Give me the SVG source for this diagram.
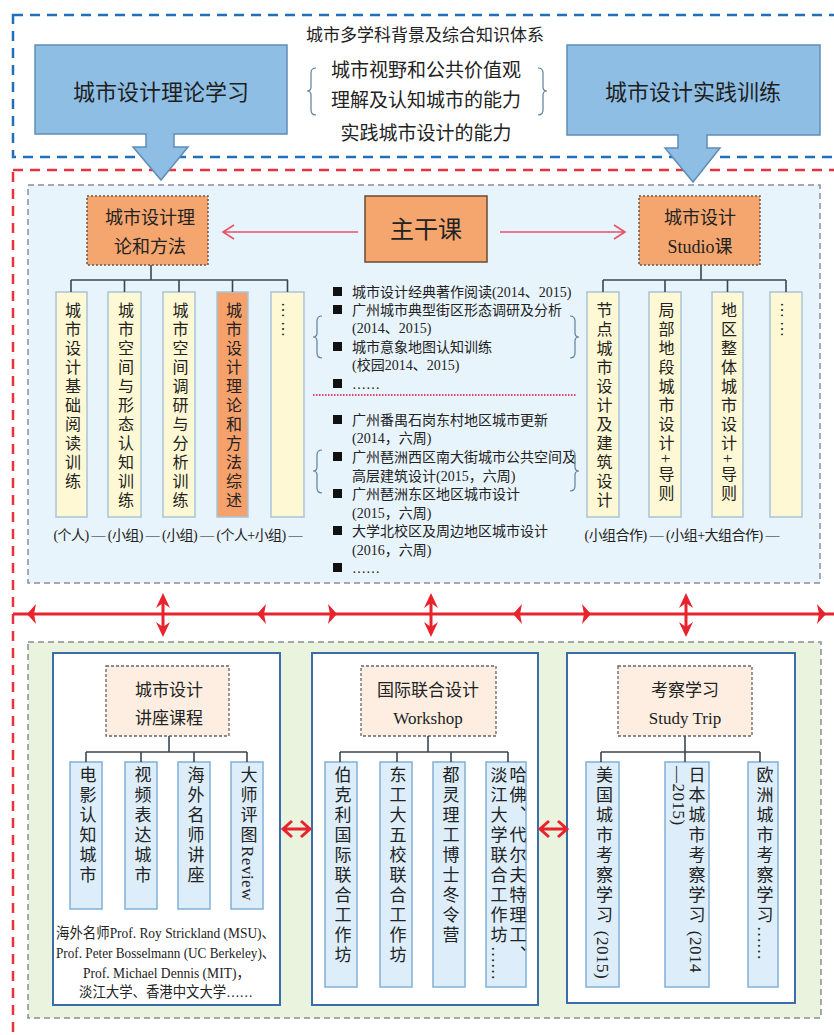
<svg xmlns="http://www.w3.org/2000/svg" width="834" height="1035" viewBox="0 0 834 1035">
<style>
.t{font-family:"Liberation Serif","Noto Sans CJK SC",serif;fill:#222}
.s{font-family:"Noto Sans CJK SC","Liberation Sans",sans-serif;fill:#1e1e1e}
.v{writing-mode:vertical-rl;font-family:"Liberation Serif","Noto Sans CJK SC",serif;fill:#222;font-size:16px;letter-spacing:3px}
.vb{writing-mode:vertical-rl;font-family:"Liberation Serif","Noto Sans CJK SC",serif;fill:#222;font-size:17px;letter-spacing:3px}
.lat{letter-spacing:0.5px}
.ycol{fill:#fef9d4;stroke:#a9c3d9;stroke-width:1.5}
.ocol{fill:#f5a16b;stroke:#a9c3d9;stroke-width:1.5}
.bcol{fill:#ddeefa;stroke:#80b0d8;stroke-width:1.5}
.ohead{fill:#f5a66e;stroke:#6b5548;stroke-width:1.5;stroke-dasharray:2 2}
.phead{fill:#fdeee1;stroke:#666;stroke-width:1.3;stroke-dasharray:3 2}
.wbox{fill:#fff;stroke:#3a6ea8;stroke-width:2}
.conn{fill:none;stroke:#3c4650;stroke-width:1.6}
.red{fill:none;stroke:#e8232d;stroke-width:3}
.redf{fill:#e8232d}
.pink{fill:none;stroke:#e5506a;stroke-width:1.6}
.brace{fill:none;stroke:#5f7f9c;stroke-width:1.2}
.big{fill:#8fbee4;stroke:#5f8db5;stroke-width:1.5}
</style>

<!-- frames -->
<rect x="13" y="15" width="840" height="142" fill="none" stroke="#1f70b6" stroke-width="2.5" stroke-dasharray="10 7"/>
<rect x="13" y="170" width="840" height="900" fill="none" stroke="#e8323c" stroke-width="2.5" stroke-dasharray="10 7"/>

<!-- top section -->
<g id="top-text">
<text class="t" x="425" y="41" font-size="17" text-anchor="middle">城市多学科背景及综合知识体系</text>
<text class="t" x="426" y="77" font-size="19" text-anchor="middle">城市视野和公共价值观</text>
<text class="t" x="426" y="107" font-size="19" text-anchor="middle">理解及认知城市的能力</text>
<text class="t" x="426" y="140" font-size="19" text-anchor="middle">实践城市设计的能力</text>
<path class="brace" d="M316 68 Q311 68 311 73 L311 87 Q311 91 307 91 Q311 91 311 95 L311 110 Q311 115 316 115"/>
<path class="brace" d="M538 68 Q543 68 543 73 L543 87 Q543 91 547 91 Q543 91 543 95 L543 110 Q543 115 538 115"/>
</g>
<g id="theory-learning">
<path class="big" d="M35 45 H287 V134 H174 V147 H188 L161 180 L133 147 H146 V134 H35 Z"/>
<text class="s" x="161" y="100" font-size="22" text-anchor="middle">城市设计理论学习</text>
</g>
<g id="practice-training">
<path class="big" d="M567 45 H820 V135 H707 V148 H720 L693 182 L665 148 H678 V135 H567 Z"/>
<text class="s" x="693" y="100" font-size="22" text-anchor="middle">城市设计实践训练</text>
</g>

<!-- middle panel -->
<rect x="28" y="185" width="792" height="398" fill="#e8f4fc" stroke="#8a8f94" stroke-width="1.5" stroke-dasharray="6 4"/>

<g id="core-course">
<rect x="365" y="196" width="122" height="66" fill="#f5a66e" stroke="#6b4a30" stroke-width="1.5"/>
<text class="t" x="426" y="238" font-size="24" text-anchor="middle">主干课</text>
</g>
<g id="theory-method">
<rect class="ohead" x="87" y="196" width="121" height="69"/>
<text class="t" x="150" y="224" font-size="18" text-anchor="middle">城市设计理</text>
<text class="t" x="150" y="253" font-size="18" text-anchor="middle">论和方法</text>
</g>
<g id="studio">
<rect class="ohead" x="639" y="196" width="121" height="69"/>
<text class="t" x="700" y="224" font-size="18" text-anchor="middle">城市设计</text>
<text class="t" x="700" y="253" font-size="18" text-anchor="middle">Studio课</text>
</g>

<g id="theory-cols">
<rect class="ycol" x="56" y="292" width="31" height="225"/>
<text class="v" x="71.5" y="302">城市设计基础阅读训练</text>
<rect class="ycol" x="108" y="292" width="33" height="225"/>
<text class="v" x="124.5" y="302">城市空间与形态认知训练</text>
<rect class="ycol" x="163" y="292" width="32" height="225"/>
<text class="v" x="179" y="302">城市空间调研与分析训练</text>
<rect class="ocol" x="217" y="292" width="31" height="225"/>
<text class="v" x="232.5" y="302">城市设计理论和方法综述</text>
<rect class="ycol" x="271" y="292" width="33" height="225"/>
<text class="v" x="287.5" y="302" letter-spacing="0">……</text>
<text class="t" x="178" y="540" font-size="14" text-anchor="middle" textLength="249">(个人) — (小组) — (小组) — (个人+小组) —</text>
</g>

<g id="studio-cols">
<rect class="ycol" x="587" y="292" width="32" height="225"/>
<text class="v" x="603" y="302">节点城市设计及建筑设计</text>
<rect class="ycol" x="649" y="292" width="32" height="225"/>
<text class="v" x="665" y="302">局部地段城市设计+导则</text>
<rect class="ycol" x="712" y="292" width="31" height="225"/>
<text class="v" x="727.5" y="302">地区整体城市设计+导则</text>
<rect class="ycol" x="770" y="292" width="32" height="225"/>
<text class="v" x="786" y="302" letter-spacing="0">……</text>
<text class="t" x="682" y="540" font-size="14" text-anchor="middle" textLength="195">(小组合作) — (小组+大组合作) —</text>
</g>

<g id="course-list">
<g fill="#111">
<rect x="333" y="287" width="9" height="9"/>
<rect x="333" y="305" width="9" height="9"/>
<rect x="333" y="342" width="9" height="9"/>
<rect x="333" y="379" width="9" height="9"/>
<rect x="333" y="415" width="9" height="9"/>
<rect x="333" y="452" width="9" height="9"/>
<rect x="333" y="489" width="9" height="9"/>
<rect x="333" y="526" width="9" height="9"/>
<rect x="333" y="563" width="9" height="9"/>
</g>
<g class="t" font-size="14">
<text x="352" y="297">城市设计经典著作阅读(2014、2015)</text>
<text x="352" y="315">广州城市典型街区形态调研及分析</text>
<text x="352" y="333">(2014、2015)</text>
<text x="352" y="352">城市意象地图认知训练</text>
<text x="352" y="370">(校园2014、2015)</text>
<text x="352" y="389">……</text>
<text x="352" y="425">广州番禺石岗东村地区城市更新</text>
<text x="352" y="443">(2014，六周)</text>
<text x="352" y="462">广州琶洲西区南大街城市公共空间及</text>
<text x="352" y="481">高层建筑设计(2015，六周)</text>
<text x="352" y="499">广州琶洲东区地区城市设计</text>
<text x="352" y="518">(2015，六周)</text>
<text x="352" y="536">大学北校区及周边地区城市设计</text>
<text x="352" y="555">(2016，六周)</text>
<text x="352" y="573">……</text>
</g>
<path class="brace" d="M322 316 Q317 316 317 321 L317 333 Q317 337 313 337 Q317 337 317 341 L317 353 Q317 358 322 358"/>
<path class="brace" d="M570 316 Q575 316 575 321 L575 333 Q575 337 579 337 Q575 337 575 341 L575 353 Q575 358 570 358"/>
<path class="brace" d="M322 450 Q317 450 317 455 L317 467 Q317 471 313 471 Q317 471 317 475 L317 488 Q317 493 322 493"/>
<path class="brace" d="M570 450 Q575 450 575 455 L575 467 Q575 471 579 471 Q575 471 575 475 L575 486 Q575 491 570 491"/>
<line x1="313" y1="395" x2="577" y2="395" stroke="#e0406a" stroke-width="2" stroke-dasharray="1.5 1.5"/>
</g>

<!-- bottom panel -->
<rect x="28" y="642" width="793" height="376" fill="#eaf3de" stroke="#8a8f94" stroke-width="1.5" stroke-dasharray="6 4"/>

<g id="lecture">
<rect class="wbox" x="53" y="653" width="227" height="352"/>
<rect class="phead" x="106" y="666" width="123" height="70"/>
<text class="t" x="169" y="696" font-size="17" text-anchor="middle">城市设计</text>
<text class="t" x="169" y="724" font-size="17" text-anchor="middle">讲座课程</text>
<rect class="bcol" x="70" y="762" width="32" height="147"/>
<text class="vb" x="86" y="766">电影认知城市</text>
<rect class="bcol" x="125" y="762" width="32" height="147"/>
<text class="vb" x="141" y="766">视频表达城市</text>
<rect class="bcol" x="178" y="762" width="32" height="147"/>
<text class="vb" x="194" y="766">海外名师讲座</text>
<rect class="bcol" x="231" y="762" width="32" height="147"/>
<text class="vb" x="247" y="766">大师评图<tspan class="lat">Review</tspan></text>
<g class="t" font-size="14.5">
<text x="56" y="938" textLength="219" lengthAdjust="spacingAndGlyphs">海外名师Prof. Roy Strickland (MSU)、</text>
<text x="56" y="958" textLength="219" lengthAdjust="spacingAndGlyphs">Prof. Peter Bosselmann (UC Berkeley)、</text>
<text x="83" y="978" textLength="167" lengthAdjust="spacingAndGlyphs">Prof. Michael Dennis (MIT)，</text>
<text x="79" y="997" textLength="174" lengthAdjust="spacingAndGlyphs">淡江大学、香港中文大学……</text>
</g>
</g>

<g id="workshop">
<rect class="wbox" x="312" y="653" width="226" height="352"/>
<rect class="phead" x="361" y="666" width="135" height="70"/>
<text class="t" x="428" y="696" font-size="17" text-anchor="middle">国际联合设计</text>
<text class="t" x="428" y="724" font-size="17" text-anchor="middle">Workshop</text>
<rect class="bcol" x="325" y="762" width="32" height="225"/>
<text class="vb" x="341" y="766">伯克利国际联合工作坊</text>
<rect class="bcol" x="380" y="762" width="32" height="225"/>
<text class="vb" x="396" y="766">东工大五校联合工作坊</text>
<rect class="bcol" x="433" y="762" width="32" height="225"/>
<text class="vb" x="449" y="766">都灵理工博士冬令营</text>
<rect class="bcol" x="486" y="762" width="40" height="225"/>
<text class="vb" x="516" y="766">哈佛、代尔夫特理工、</text>
<text class="vb" x="497" y="766">淡江大学联合工作坊<tspan letter-spacing="0">……</tspan></text>
</g>

<g id="study-trip">
<rect class="wbox" x="567" y="653" width="228" height="350"/>
<rect class="phead" x="618" y="666" width="134" height="70"/>
<text class="t" x="685" y="696" font-size="17" text-anchor="middle">考察学习</text>
<text class="t" x="685" y="724" font-size="17" text-anchor="middle">Study Trip</text>
<rect class="bcol" x="586" y="762" width="33" height="225"/>
<text class="vb" x="602.5" y="766">美国城市考察学习<tspan class="lat"> (2015)</tspan></text>
<rect class="bcol" x="665" y="762" width="44" height="225"/>
<text class="vb" x="695" y="766">日本城市考察学习<tspan class="lat"> (2014</tspan></text>
<text class="vb" x="678" y="766"><tspan class="lat">—2015)</tspan></text>
<rect class="bcol" x="748" y="762" width="30" height="225"/>
<text class="vb" x="763" y="766">欧洲城市考察学习<tspan letter-spacing="0">……</tspan></text>
</g>

<g id="connectors">
<!-- middle tree lines -->
<path class="conn" d="M151 265 V280 M71 280 H288 M71 280 V292 M124.5 280 V292 M179 280 V292 M232.5 280 V292 M287.5 280 V292"/>
<path class="conn" d="M701 265 V280 M603 280 H786 M603 280 V292 M665 280 V292 M727.5 280 V292 M786 280 V292"/>
<!-- pink arrows -->
<path class="pink" d="M358 232 H223 M234 225 L223 232 L234 239"/>
<path class="pink" d="M500 232 H625 M614 225 L625 232 L614 239"/>
<!-- bottom tree lines -->
<path class="conn" d="M169 736 V752 M86 752 H247 M86 752 V762 M141 752 V762 M194 752 V762 M247 752 V762"/>
<path class="conn" d="M428 736 V752 M340 752 H508 M340 752 V762 M397 752 V762 M451 752 V762 M508 752 V762"/>
<path class="conn" d="M685 736 V752 M601 752 H760 M601 752 V762 M685 752 V762 M760 752 V762"/>
<!-- red horizontal line with arrowheads -->
<line class="red" x1="13" y1="614" x2="834" y2="614"/>
<g class="redf">
<polygon points="27,614 36,604 34,614 36,624"/>
<polygon points="257,614 266,604 264,614 266,624"/>
<polygon points="337,614 328,604 330,614 328,624"/>
<polygon points="513,614 522,604 520,614 522,624"/>
<polygon points="591,614 582,604 584,614 582,624"/>
<polygon points="826,614 817,604 819,614 817,624"/>
</g>
<!-- vertical double arrows -->
<g>
<line class="red" x1="163" y1="597" x2="163" y2="632" stroke-width="2.5"/>
<polygon class="redf" points="163,593 170,608 163,603 156,608"/>
<polygon class="redf" points="163,637 170,622 163,627 156,622"/>
<line class="red" x1="431" y1="597" x2="431" y2="632" stroke-width="2.5"/>
<polygon class="redf" points="431,593 438,608 431,603 424,608"/>
<polygon class="redf" points="431,637 438,622 431,627 424,622"/>
<line class="red" x1="686" y1="597" x2="686" y2="632" stroke-width="2.5"/>
<polygon class="redf" points="686,593 693,608 686,603 679,608"/>
<polygon class="redf" points="686,637 693,622 686,627 679,622"/>
</g>
<!-- horizontal double arrows between bottom boxes -->
<path class="red" d="M284 829 H309 M292 821 L283 829 L292 837 M301 821 L310 829 L301 837"/>
<path class="red" d="M541 829 H566 M549 821 L540 829 L549 837 M558 821 L567 829 L558 837"/>
</g>
</svg>
